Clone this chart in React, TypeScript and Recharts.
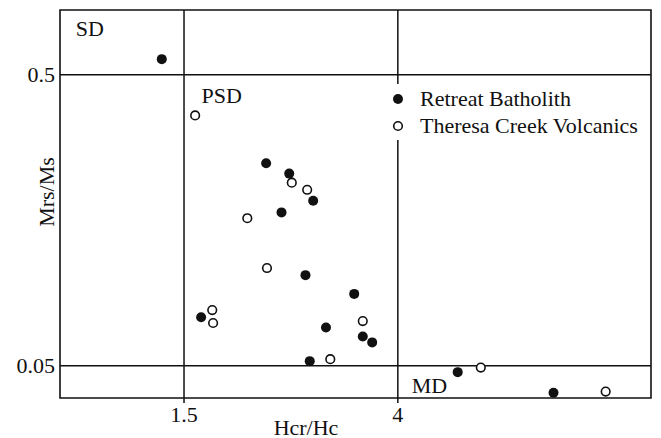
import React from "react";
import {
  ScatterChart,
  Scatter,
  XAxis,
  YAxis,
  ReferenceLine,
  ReferenceArea,
  ReferenceDot,
} from "recharts";

// Day plot: Hcr/Hc vs Mrs/Ms
const retreatX = [1.24, 2.46, 2.73, 3.01, 2.64, 2.92, 3.49, 1.7, 3.16, 3.59, 3.7, 2.97, 4.7, 5.82];
const retreatY = [0.524, 0.363, 0.347, 0.305, 0.287, 0.19, 0.161, 0.125, 0.109, 0.095, 0.086, 0.057, 0.04, 0.008];

const theresaX = [1.63, 2.76, 2.94, 2.24, 2.47, 1.83, 1.84, 3.59, 3.21, 4.97, 6.43];
const theresaY = [0.437, 0.333, 0.322, 0.278, 0.201, 0.136, 0.116, 0.119, 0.06, 0.047, 0.01];

const xTicks = [1.5, 4];
const yTicks = [0.05, 0.5];
const xDomain = [0.05, 6.96];
const yDomain = [0, 0.6];

const regions = [
  { name: "SD", x: 0.4, y: 0.572 },
  { name: "PSD", x: 1.94, y: 0.469 },
  { name: "MD", x: 4.37, y: 0.02 },
];

const retreat = retreatX.map((x, i) => ({ x, y: retreatY[i] }));
const theresa = theresaX.map((x, i) => ({ x, y: theresaY[i] }));

const FONT = "'Liberation Serif', 'Times New Roman', serif";
const INK = "#111";
const FS = 22;

function FilledDot(props: any) {
  return <circle cx={props.cx} cy={props.cy} r={5} fill={INK} />;
}

function OpenDot(props: any) {
  return <circle cx={props.cx} cy={props.cy} r={4.3} fill="#fff" stroke={INK} strokeWidth={1.6} />;
}

function DayLegend() {
  const items = [
    { label: "Retreat Batholith", filled: true },
    { label: "Theresa Creek Volcanics", filled: false },
  ];
  return (
    <div style={{ position: "absolute", left: 387, top: 84, background: "#fff", padding: "1px 0" }}>
      {items.map((it) => (
        <div
          key={it.label}
          style={{ display: "flex", alignItems: "center", height: 27, fontFamily: FONT, fontSize: FS, color: INK, lineHeight: "27px" }}
        >
          <svg width={22} height={14} style={{ marginRight: 11 }}>
            {it.filled ? (
              <circle cx={11} cy={7} r={5} fill={INK} />
            ) : (
              <circle cx={11} cy={7} r={4.3} fill="#fff" stroke={INK} strokeWidth={1.6} />
            )}
          </svg>
          <span>{it.label}</span>
        </div>
      ))}
    </div>
  );
}

export default function App() {
  return (
    <div style={{ position: "absolute", left: 0, top: 0, width: 661, height: 438, background: "#fff" }}>
      <ScatterChart width={661} height={438} margin={{ top: 10, right: 10, bottom: 0, left: 0 }}>
        <XAxis
          type="number"
          dataKey="x"
          domain={xDomain}
          ticks={xTicks}
          axisLine={false}
          tickLine={{ stroke: INK, strokeWidth: 1.5 }}
          tickSize={5}
          tickMargin={3}
          height={40}
          tick={{ fill: INK, fontSize: FS, fontFamily: FONT }}
          label={{
            content: () => (
              <text x={306} y={427} textAnchor="middle" dominantBaseline="central" fill={INK} fontSize={FS} fontFamily={FONT}>
                Hcr/Hc
              </text>
            ),
          }}
        />
        <YAxis
          type="number"
          dataKey="y"
          domain={yDomain}
          ticks={yTicks}
          axisLine={false}
          tickLine={false}
          tickSize={0}
          tickMargin={5}
          width={60}
          tick={{ fill: INK, fontSize: FS, fontFamily: FONT }}
          label={{
            content: () => (
              <text
                x={46}
                y={192}
                transform="rotate(-90 46 192)"
                textAnchor="middle"
                dominantBaseline="central"
                fill={INK}
                fontSize={FS}
                fontFamily={FONT}
              >
                Mrs/Ms
              </text>
            ),
          }}
        />
        <ReferenceArea
          x1={xDomain[0]}
          x2={xDomain[1]}
          y1={yDomain[0]}
          y2={yDomain[1]}
          fill="none"
          stroke={INK}
          strokeWidth={1.6}
          fillOpacity={0}
        />
        {xTicks.map((v) => (
          <ReferenceLine key={`x${v}`} x={v} stroke={INK} strokeWidth={1.5} />
        ))}
        {yTicks.map((v) => (
          <ReferenceLine key={`y${v}`} y={v} stroke={INK} strokeWidth={1.5} />
        ))}
        {regions.map((r) => (
          <ReferenceDot
            key={r.name}
            x={r.x}
            y={r.y}
            r={0}
            fill="none"
            stroke="none"
            label={{ value: r.name, position: "center", fill: INK, fontSize: FS, fontFamily: FONT }}
          />
        ))}
        <Scatter name="Retreat Batholith" data={retreat} shape={FilledDot} isAnimationActive={false} />
        <Scatter name="Theresa Creek Volcanics" data={theresa} shape={OpenDot} isAnimationActive={false} />
      </ScatterChart>
      <DayLegend />
    </div>
  );
}
